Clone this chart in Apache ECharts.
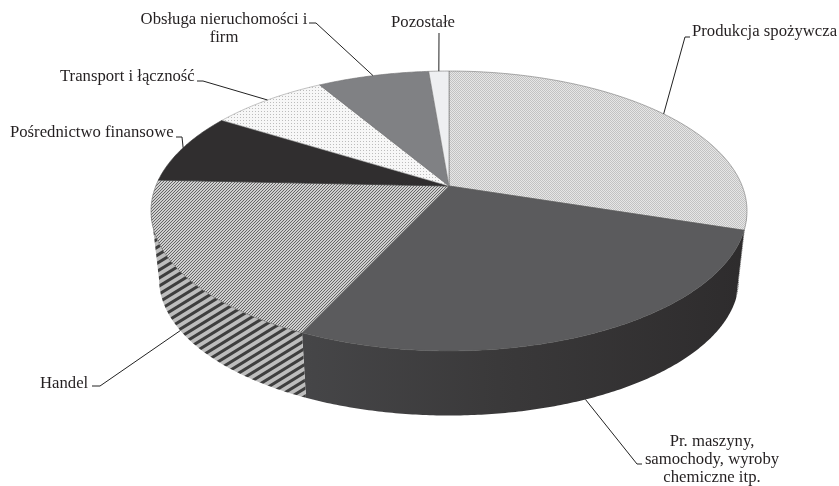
<!DOCTYPE html>
<html><head><meta charset="utf-8">
<style>html,body{margin:0;padding:0;background:#fff}#c{width:839px;height:486px}</style>
<script src="https://cdn.jsdelivr.net/npm/echarts@6/dist/echarts.min.js"></script>
</head><body><div id="c"></div>
<script>
const categories = ['Produkcja spożywcza','Pr. maszyny,\nsamochody, wyroby\nchemiczne itp.','Handel','Pośrednictwo finansowe','Transport i łączność','Obsługa nieruchomości i\nfirm','Pozostałe'];
const shares = [30.0,26.9,18.8,8.2,7.6,7.2,1.3];

// projection of the pie disc (perspective view)
const CX=449, CY=186, R=293.2, RK=135.5, P=0.1786, BOTTOM_SCALE=0.973, BOTTOM_CY=255;
const total = shares.reduce((a,b)=>a+b,0);
const starts = []; shares.reduce((acc,v,i)=>{starts[i]=acc;return acc+v/total*2*Math.PI;},0);
function rim(t,bottom){
  const u=Math.sin(t), v=-Math.cos(t), w=1-P*v, s=bottom?BOTTOM_SCALE:1, cy=bottom?BOTTOM_CY:CY;
  return [CX+s*R*u/w, cy+s*RK*v/w];
}
function arc(a,b,bottom){const n=Math.max(2,Math.ceil((b-a)/0.01)),o=[];for(let i=0;i<=n;i++)o.push(rim(a+(b-a)*i/n,bottom));return o;}

function tile(w,h,draw){const c=document.createElement('canvas');c.width=w;c.height=h;draw(c.getContext('2d'),w,h);return {image:c,repeat:'repeat'};}
const dots=(bg,fg,st)=>tile(st,st,(g)=>{g.fillStyle=bg;g.fillRect(0,0,st,st);g.fillStyle=fg;g.fillRect(0,0,1,1);});
const checker=(a,b)=>tile(2,2,(g)=>{g.fillStyle=a;g.fillRect(0,0,2,2);g.fillStyle=b;g.fillRect(0,0,1,1);g.fillRect(1,1,1,1);});
const stripe=(w,h,bg,fg,lw)=>tile(w,h,(g)=>{g.fillStyle=bg;g.fillRect(0,0,w,h);g.strokeStyle=fg;g.lineWidth=lw;for(let m=-2;m<=2;m++){g.beginPath();g.moveTo(-w,2*h+m*h);g.lineTo(2*w,-h+m*h);g.stroke();}});
const topFills=[checker('#e6e6e6','#c2c2c2'),'#5b5b5d',stripe(3,3,'#cfcfcf','#666',1),'#302e2f',dots('#f7f7f7','#bcbcbc',3),'#808184','#eeeff1'];
const sideGradient=new echarts.graphic.LinearGradient(300,0,740,0,[{offset:0,color:'#464648'},{offset:0.45,color:'#3a393a'},{offset:1,color:'#2e2c2d'}],true);
const sideFills=[checker('#bbb','#777'),sideGradient,stripe(13,8,'#bdbdbd','#3e3e3e',3),'#302e2f','#f0f0f0','#808184','#eeeff1'];
const edgeColors=['#777','#555','#666','#333','#999','#6e6e70','#777'];

// label placement: text anchor, then leader elbow and end beside the text
const labelPlaces=[
 {x:692,y:32,align:'left',leader:[[685,37],[690,37]],bottom:false},
 {x:712,y:460,align:'center',leader:[[637,464],[642,464]],bottom:true},
 {x:40,y:384,align:'left',leader:[[100,386],[92,386]],bottom:true},
 {x:10,y:133,align:'left',leader:[[182,137],[176,137]],bottom:false},
 {x:60,y:77,align:'left',leader:[[203,81],[197,81]],bottom:false},
 {x:224,y:29,align:'center',leader:[[316,23],[309,23]],bottom:false},
 {x:423,y:23,align:'center',leader:[[439,33]],bottom:false}
];
const FONT='16.7px "Liberation Serif"';
const TANGENT=Math.acos(-P);

function sideItem(params,api){
  const i=params.dataIndex,a=starts[i],b=a+api.value(0)/total*2*Math.PI;
  const lo=TANGENT, hi=2*Math.PI-TANGENT;
  if(b<=lo||a>=hi) return {type:'group',children:[]};
  const s=Math.max(a,lo),e=Math.min(b,hi);
  const pts=arc(s,e,false).concat(arc(s,e,true).reverse());
  return {type:'polygon',shape:{points:pts},style:{fill:sideFills[i],stroke:null}};
}
function topItem(params,api){
  const i=params.dataIndex,a=starts[i],b=a+api.value(0)/total*2*Math.PI;
  const pts=[[CX,CY]].concat(arc(a,b,false));
  return {type:'polygon',shape:{points:pts},style:{fill:topFills[i],stroke:edgeColors[i],lineWidth:0.6}};
}
function labelItem(params,api){
  const i=params.dataIndex,a=starts[i],mid=a+api.value(0)/total*Math.PI,p=labelPlaces[i];
  return {type:'group',children:[
    {type:'polyline',shape:{points:[rim(mid,p.bottom)].concat(p.leader)},style:{fill:null,stroke:'#222',lineWidth:1}},
    {type:'text',style:{text:categories[i],x:p.x,y:p.y,textAlign:p.align,textVerticalAlign:'middle',font:FONT,lineHeight:18,fill:'#231f20'}}
  ]};
}
const data=shares.map((v,i)=>({name:categories[i],value:v}));
const chart=echarts.init(document.getElementById('c'),null,{renderer:'canvas'});
chart.setOption({
  animation:false,backgroundColor:'#fff',
  series:[
    {type:'custom',coordinateSystem:'none',renderItem:sideItem,data,z:1,silent:true},
    {type:'custom',coordinateSystem:'none',renderItem:topItem,data,z:2,silent:true},
    {type:'custom',coordinateSystem:'none',renderItem:labelItem,data,z:3,silent:true}
  ]
});
</script></body></html>
